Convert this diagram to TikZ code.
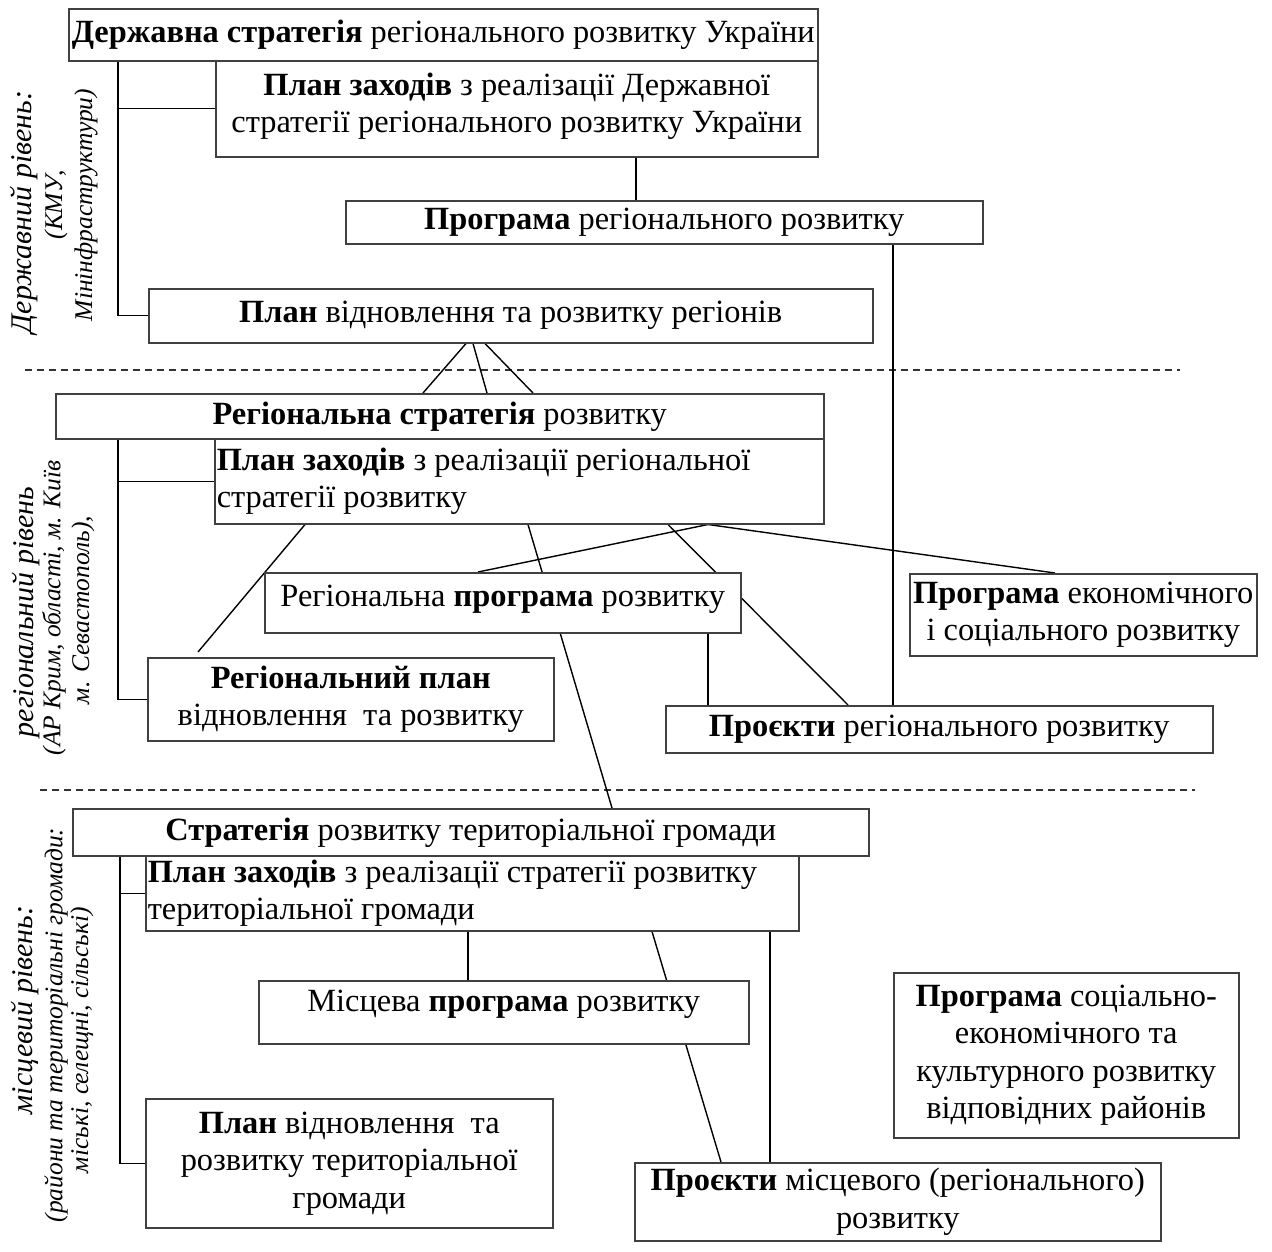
\documentclass[tikz,border=0pt]{standalone}
\usepackage{fontspec}
\setmainfont{Liberation Serif}
\pgfdeclarelayer{bg}
\pgfsetlayers{bg,main}
\begin{document}
\begin{tikzpicture}[x=1pt,y=-1pt,
  box/.style={draw=black!75, line width=1.5pt, fill=white, anchor=north west, inner sep=0pt, align=center, font=\fontsize{32.4}{37.5}\selectfont},
  lbox/.style={box, align=flush left, inner xsep=2pt},
  conn/.style={line width=1.4pt, black},
  sepline/.style={line width=1.4pt, dash pattern=on 7pt off 5pt, black!80},
  lvl/.style={rotate=90, inner sep=0pt, font=\itshape\fontsize{30}{36}\selectfont},
  sublvl/.style={rotate=90, inner sep=0pt, font=\itshape\fontsize{25.5}{30}\selectfont}]
\useasboundingbox (0,0) rectangle (1272,1251);

% state level
\node[box, minimum width=749pt, minimum height=52pt] (A) at (68,8) {\textbf{Державна стратегія} регіонального розвитку України};
\node[box, minimum width=602pt, minimum height=96pt] (B) at (215,60) {\textbf{План заходів} з реалізації Державної\\стратегії регіонального розвитку України\\[-26pt]\mbox{}};
\node[box, minimum width=637pt, minimum height=43pt] (C) at (345,200) {\textbf{Програма} регіонального розвитку};
\node[box, minimum width=724pt, minimum height=54pt] (D) at (148,288) {\textbf{План} відновлення та розвитку регіонів};

% regional level
\node[box, minimum width=768pt, minimum height=45pt] (E) at (55,393) {\textbf{Регіональна стратегія} розвитку};
\node[lbox, minimum width=609pt, minimum height=85pt, text width=605pt] (F) at (214,438) {\textbf{План заходів} з реалізації регіональної\\стратегії розвитку};
\node[box, minimum width=476pt, minimum height=60pt, text depth=14pt] (G) at (264,572) {Регіональна \textbf{програма} розвитку};
\node[box, minimum width=347pt, minimum height=82pt] (H) at (909,573) {\textbf{Програма} економічного\\і соціального розвитку};
\node[box, minimum width=406pt, minimum height=83pt] (I) at (147,657) {\textbf{Регіональний план}\\відновлення\ \ та розвитку};
\node[box, minimum width=547pt, minimum height=47pt] (J) at (665,705) {\textbf{Проєкти} регіонального розвитку};

% local level
\node[box, minimum width=796pt, minimum height=47pt] (K) at (72,808) {\textbf{Стратегія} розвитку територіальної громади};
\node[lbox, minimum width=653pt, minimum height=75pt, text width=649pt] (L) at (145,855) {\textbf{План заходів} з реалізації стратегії розвитку\\територіальної громади};
\node[box, minimum width=490pt, minimum height=63pt, text depth=22pt] (M) at (258,980) {Місцева \textbf{програма} розвитку};
\node[box, minimum width=407pt, minimum height=129pt] (N) at (145,1098) {\textbf{План} відновлення\ \ та\\розвитку територіальної\\громади};
\node[box, minimum width=345pt, minimum height=165pt] (O) at (893,972) {\textbf{Програма} соціально-\\економічного та\\культурного розвитку\\відповідних районів};
\node[box, minimum width=526pt, minimum height=78pt] (P) at (634,1162) {\textbf{Проєкти} місцевого (регіонального)\\розвитку};

% level labels
\node[lvl] (l1a) at (24,212) {Державний рівень:};
\node[sublvl] (l1b) at (56,205) {(КМУ,};
\node[sublvl] (l1c) at (86,205) {Мінінфраструктури)};
\node[lvl] (l2a) at (26,612) {регіональний рівень};
\node[sublvl] (l2b) at (54,608) {(АР Крим, області, м. Київ};
\node[sublvl] (l2c) at (83,610) {м. Севастополь),};
\node[lvl] (l3a) at (25,1010) {місцевий рівень:};
\node[sublvl] (l3b) at (56,1025) {(райони та територіальні громади:};
\node[sublvl] (l3c) at (82,1040) {міські, селещні, сільські)};

% separators
\coordinate (s1a) at (25,370);
\coordinate (s1b) at (1180,370);
\coordinate (s2a) at (40,790);
\coordinate (s2b) at (1195,790);

\begin{pgfonlayer}{bg}
\draw[sepline] (s1a) -- (s1b);
\draw[sepline] (s2a) -- (s2b);
% state brackets
\draw[conn] ([xshift=50pt]A.south west) |- (D.west);
\draw[conn] ([xshift=50pt]A.south west) |- (B.west);
\draw[conn] ([xshift=421pt]B.south west) -- ([xshift=421pt]B.south west |- C.north);
\draw[conn] ([xshift=548pt]C.south west) -- ([xshift=548pt]C.south west |- J.north);
% D to E
\draw[conn] ([xshift=318pt]D.south west) -- ([xshift=368pt]E.north west);
\draw[conn] ([xshift=325pt]D.south west) -- ([xshift=432pt]E.north west);
\draw[conn] ([xshift=337pt]D.south west) -- ([xshift=478pt]E.north west);
% regional bracket
\draw[conn] ([xshift=63pt]E.south west) |- (I.west);
\draw[conn] ([xshift=63pt]E.south west) |- (F.west);
% from F
\draw[conn] ([xshift=91pt]F.south west) -- ([xshift=51pt,yshift=5pt]I.north west);
\draw[conn] ([xshift=314pt]F.south west) -- ([xshift=540pt]K.north west);
\draw[conn] ([xshift=454pt]F.south west) -- ([xshift=183pt]J.north west);
\draw[conn] ([xshift=494pt]F.south west) -- ([xshift=214pt]G.north west);
\draw[conn] ([xshift=494pt]F.south west) -- ([xshift=146pt]H.north west);
\draw[conn] ([xshift=444pt]G.south west) -- ([xshift=444pt]G.south west |- J.north);
% local bracket
\draw[conn] ([xshift=48pt]K.south west) |- (N.west);
\draw[conn] ([xshift=48pt]K.south west) |- (L.west);
\draw[conn] ([xshift=323pt]L.south west) -- ([xshift=323pt]L.south west |- M.north);
\draw[conn] ([xshift=507pt]L.south west) -- ([xshift=87pt]P.north west);
\draw[conn] ([xshift=625pt]L.south west) -- ([xshift=625pt]L.south west |- P.north);
\end{pgfonlayer}
\end{tikzpicture}
\end{document}
